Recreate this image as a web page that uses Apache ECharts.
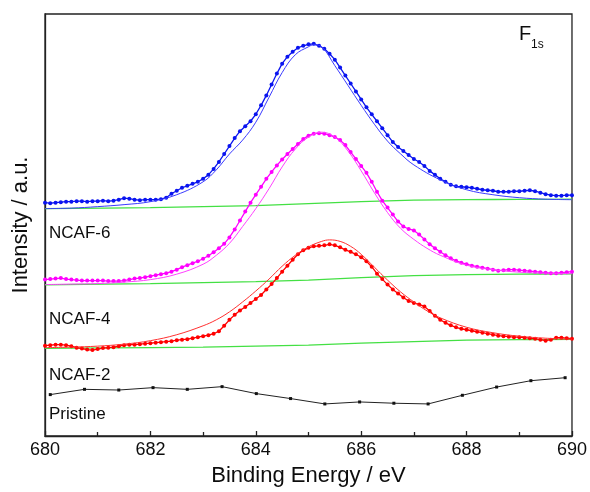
<!DOCTYPE html>
<html><head><meta charset="utf-8">
<script src="https://cdn.jsdelivr.net/npm/echarts/dist/echarts.min.js"></script>
<style>html,body{margin:0;padding:0;background:#fff}#c{width:590px;height:492px}</style>
</head><body><div id="c"></div>
<script>
// x-axis
const xTicks = [680, 682, 684, 686, 688, 690];
// uniform energy grid of the measured spectra (0.1 eV step)
const energy = Array.from({length: 101}, (_, i) => +(680 + i * 0.1).toFixed(1));

// measured spectra (offset, a.u.)
const ncaf6 = [235,234.5,235,235.5,236,236,236.5,236.5,236,236.5,
  236.5,237,236.5,237,238,239.5,239,238,237.5,238,
  238,238,238.5,240,244,247,250,252,254,256,
  259,263,269,276,284,292,300,307,312,317,
  324,333,343,354,365,375,382,387,391,393,
  394.5,395,393,390,385,379,371,363,355,347,
  339,331,324,317,310,303,296,291,287,283,
  279,276,272,267,263,259,256,253,251.5,251,
  250.5,250,249,248,247.5,247,246,246,246,246.5,
  246.5,247,247.5,246.5,245,243.5,242.5,242,242,242.5,
  242.5];
const ncaf4 = [157.5,158,158.5,159,158,157.5,157,156.5,156.5,156.5,
  156.5,156.5,156,156,156,156.5,157.5,158.5,159,160,
  161,162,163,164,165.5,167.5,170,172,174,176,
  178.5,181.5,185,189,193.5,200,208,217,226,235,
  243,251,259,266,272.5,278.5,284,289,294,299,
  302.5,304.5,305,304.5,303,301,298,293,286,279,
  272,265,256,246,237,230,223,216,211,208.5,
  207,203,198,193,189,185.5,182,179,176.5,174.5,
  173,171.5,170.5,169.5,168.5,167.5,166.5,167,167.5,167.5,
  167,166.5,166,165.5,165,164.5,164,164,164.5,165,
  165.5];
const ncaf2 = [91,91.5,92,92,91.5,90.5,89,88,87,86.5,
  87.5,88.5,89,89.5,90.5,91.5,92,92,92.5,93,
  93.5,94,94.5,95,95.5,96.5,97,97.5,98.5,99.5,
  100.5,101.5,103,105.5,111,117,122,126.5,130,134,
  138,142,147.5,153,159,165.5,171.5,177.5,183,187,
  189.5,191,191.5,192,193,192,190,187.5,185.5,183,
  180,176,170.5,163.5,158,152.5,147.5,143.5,139.5,136,
  134,132.5,130.5,126,121,117,114,111.5,109.5,108,
  107,106,105,104,103,102,101,100.5,100,99.5,
  99.5,99,98.5,98,97,96,97,99,99,98.5,
  98];

// fitted envelopes
const fit6E = [680,680.5,681,681.5,682,682.5,683,683.25,683.5,683.75,684,684.25,684.5,684.75,685,685.1,685.25,685.5,685.75,686,686.25,686.5,686.75,687,687.5,688,688.5,689,689.5,690];
const fit6 = [229,229.5,231,233,236,243,256,268,284,298,316,341,366,384,392,394,392,373,353,333,314,297,284,273,258,248,243,240,238.5,238];
const fit4E = [680,680.5,681,681.5,682,682.5,683,683.25,683.5,683.75,684,684.25,684.5,684.75,685,685.25,685.5,685.75,686,686.25,686.5,686.75,687,687.25,687.5,688,688.5,689,689.5,690];
const fit4 = [152.5,153,153.5,155,157.5,163,173,182,194,211,229,249,271,289,301,306,301,287,267,245,225,209,198,189,182,172,167.5,165,164,163.5];
const fit2E = [680,680.5,681,681.5,682,682.5,683,683.25,683.5,683.75,684,684.25,684.5,684.75,685,685.25,685.4,685.6,685.8,686,686.25,686.5,686.75,687,687.25,687.5,688,688.5,689,689.5,690];
const fit2 = [89,89.5,90.5,92.5,96,102,111,117,125,135,146,158,171,182,190.5,196,197.5,196,191,183,170,157,145,135,126,119,109.5,104,100.5,98.5,97.5];

// backgrounds
const bgE = [680,682,683,684,685,686,687,688,689,690];
const bg6 = [229,230,231,232,234,236,237.5,238,238.3,238.5];
const bg4 = [152.3,153.5,154.5,155.5,157,159.5,161.5,162.5,163,163.3];
const bg2 = [88.3,89,89.5,90.5,91.5,93.5,95,96.5,97,97.3];

// pristine
const pristineE = [680.10,680.75,681.40,682.05,682.70,683.36,684.01,684.66,685.31,685.97,686.62,687.27,687.92,688.57,689.22,689.87];
const pristine = [41.7,47,46.3,48.7,47,49.7,42.7,37.7,32.3,34.3,33,32.3,41,49.3,55.7,58.7];

const sampleLabels = ['NCAF-6', 'NCAF-4', 'NCAF-2', 'Pristine'];

const zip = (xs, ys) => xs.map((x, i) => [x, ys[i]]);
const FONT = '"Liberation Sans", Arial, sans-serif';
const GREEN = '#44e044';
const INK = '#0d0d0d';

function dataSeries(ys, color) {
  return { type: 'line', data: zip(energy, ys), symbol: 'circle', symbolSize: 4,
    itemStyle: { color }, lineStyle: { color, width: 1.3 }, z: 3, silent: true };
}
function fitSeries(xs, ys, color) {
  return { type: 'line', data: zip(xs, ys), smooth: 0.4, symbol: 'none',
    lineStyle: { color, width: 1 }, z: 4, silent: true };
}
function bgSeries(ys) {
  return { type: 'line', data: zip(bgE, ys), smooth: 0.3, symbol: 'none',
    lineStyle: { color: GREEN, width: 1.3 }, z: 2, silent: true };
}

const chart = echarts.init(document.getElementById('c'), null, { renderer: 'canvas' });
chart.setOption({
  animation: false,
  backgroundColor: '#fff',
  grid: { left: 45, right: 17, top: 14, bottom: 53, show: true, borderColor: '#222', borderWidth: 1.3, backgroundColor: 'transparent' },
  xAxis: {
    type: 'value', min: xTicks[0], max: xTicks[xTicks.length - 1], interval: 2,
    name: 'Binding Energy / eV', nameLocation: 'middle', nameGap: 29,
    nameTextStyle: { fontFamily: FONT, fontSize: 22, color: INK },
    axisLine: { show: true, lineStyle: { color: '#222', width: 1.3 } },
    axisTick: { show: true, inside: true, length: 5, lineStyle: { color: '#222', width: 1.3 } },
    minorTick: { show: true, splitNumber: 2, length: 4, lineStyle: { color: '#222', width: 1.3 } },
    axisLabel: { fontFamily: FONT, fontSize: 18, color: INK, margin: 5 },
    splitLine: { show: false }
  },
  yAxis: {
    type: 'value', min: 0, max: 425,
    name: 'Intensity / a.u.', nameLocation: 'middle', nameGap: 13, nameRotate: 90,
    nameTextStyle: { fontFamily: FONT, fontSize: 22, color: INK },
    axisLine: { show: true, lineStyle: { color: '#222', width: 1.3 } },
    axisTick: { show: false }, axisLabel: { show: false }, splitLine: { show: false }
  },
  series: [
    bgSeries(bg6), bgSeries(bg4), bgSeries(bg2),
    fitSeries(fit6E, fit6, '#3a3aff'),
    fitSeries(fit4E, fit4, '#ff40ff'),
    fitSeries(fit2E, fit2, '#ff3030'),
    dataSeries(ncaf6, '#0a14f0'),
    dataSeries(ncaf4, '#ff00ff'),
    dataSeries(ncaf2, '#ff0000'),
    { type: 'line', data: zip(pristineE, pristine), symbol: 'rect', symbolSize: 3,
      itemStyle: { color: '#111' }, lineStyle: { color: '#222', width: 1 }, z: 3, silent: true }
  ],
  graphic: [
    { type: 'text', x: 49, y: 233, style: { text: sampleLabels[0], font: '17px ' + FONT, fill: INK, verticalAlign: 'middle' } },
    { type: 'text', x: 49, y: 319, style: { text: sampleLabels[1], font: '17px ' + FONT, fill: INK, verticalAlign: 'middle' } },
    { type: 'text', x: 49, y: 375, style: { text: sampleLabels[2], font: '17px ' + FONT, fill: INK, verticalAlign: 'middle' } },
    { type: 'text', x: 49, y: 414, style: { text: sampleLabels[3], font: '17px ' + FONT, fill: INK, verticalAlign: 'middle' } },
    { type: 'text', x: 519, y: 34, style: { text: 'F', font: '20px ' + FONT, fill: INK, verticalAlign: 'middle' } },
    { type: 'text', x: 531, y: 45, style: { text: '1s', font: '12px ' + FONT, fill: INK, verticalAlign: 'middle' } }
  ]
});
</script></body></html>
